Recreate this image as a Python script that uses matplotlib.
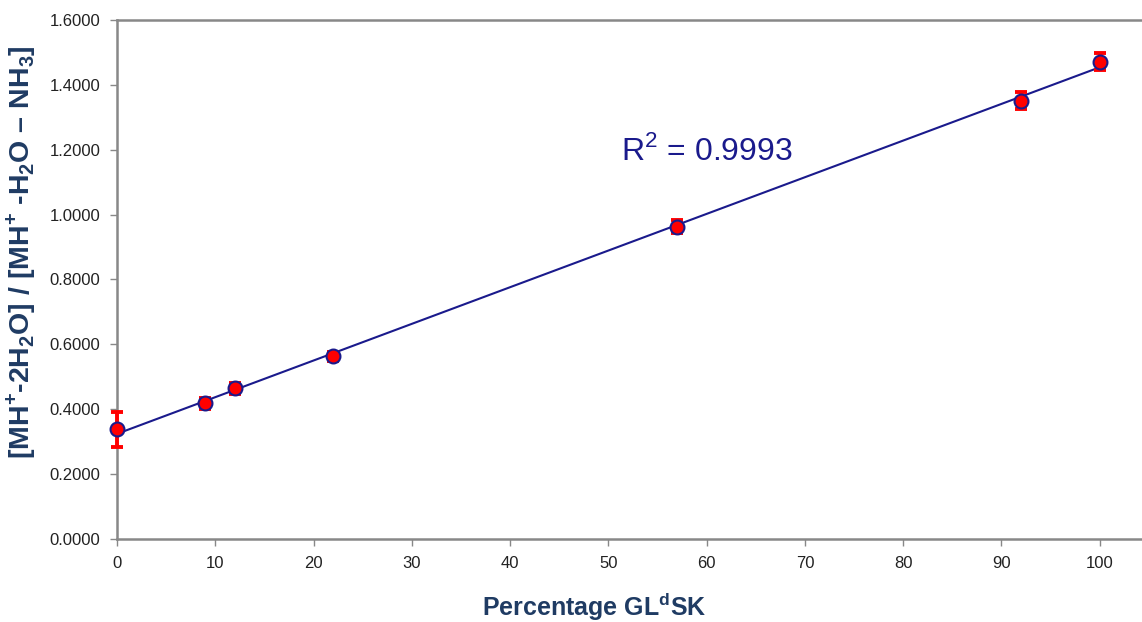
import numpy as np
import matplotlib.pyplot as plt

plt.rcParams['font.family'] = ['Liberation Sans', 'DejaVu Sans']
plt.rcParams['mathtext.fontset'] = 'custom'
plt.rcParams['mathtext.rm'] = 'Liberation Sans'
plt.rcParams['mathtext.bf'] = 'Liberation Sans:bold'

# data
percent = [0, 9, 12, 22, 57, 92, 100]
ratio = [0.338, 0.418, 0.465, 0.563, 0.963, 1.351, 1.471]
err = [0.055, 0.016, 0.017, 0.013, 0.02, 0.026, 0.026]

x_ticks = list(range(0, 101, 10))
y_ticks = [0.0, 0.2, 0.4, 0.6, 0.8, 1.0, 1.2, 1.4, 1.6]

fig = plt.figure(figsize=(11.42, 6.22), dpi=100)
ax = fig.add_axes([0.1025, 0.1334, 0.8975, 0.8346])

# linear fit
slope, icpt = np.polyfit(percent, ratio, 1)
fx = np.array([0, 100])
ax.plot(fx, slope * fx + icpt, color='#1a1a8c', lw=1.5, zorder=2)

ax.errorbar(percent, ratio, yerr=err, fmt='none', ecolor='red', elinewidth=2.8,
            capsize=4, capthick=2.8, zorder=3, clip_on=False)
ax.plot(percent, ratio, 'o', ms=10, mfc='red', mec='#1a1a8c', mew=1.5, zorder=4,
        clip_on=False)

ax.text(51.3, 1.195, 'R$^2$ = 0.9993', color='#1a1a8c', fontsize=23, va='center')

ax.set_xlim(0, 104.3)
ax.set_ylim(0, 1.6)
ax.set_xticks(x_ticks)
ax.set_yticks(y_ticks)
ax.set_yticklabels([f'{v:.4f}' for v in y_ticks])
ax.tick_params(labelsize=12, length=5, width=1, pad=7)
ax.tick_params(axis='x', colors='#888888', labelcolor='#222222')
ax.tick_params(axis='y', colors='#888888', labelcolor='#222222')

for s in ['left', 'bottom', 'top']:
    ax.spines[s].set_color('#888888')
    ax.spines[s].set_linewidth(1.8)
ax.spines['right'].set_visible(False)

ax.set_xlabel('Percentage GL$^\\mathbf{d}$SK', fontsize=18, fontweight='bold',
              color='#1f3b63')
ax.set_ylabel('[MH$^\\mathbf{+}$-2H$_\\mathbf{2}$O] / [MH$^\\mathbf{+}$ -H$_\\mathbf{2}$O \u2013 NH$_\\mathbf{3}$]',
              fontsize=20.5, fontweight='bold', color='#1f3b63')
ax.xaxis.set_label_coords(0.466, -0.1)
ax.yaxis.set_label_coords(-0.077, 0.553)

fig.savefig('out.png', dpi=100)
